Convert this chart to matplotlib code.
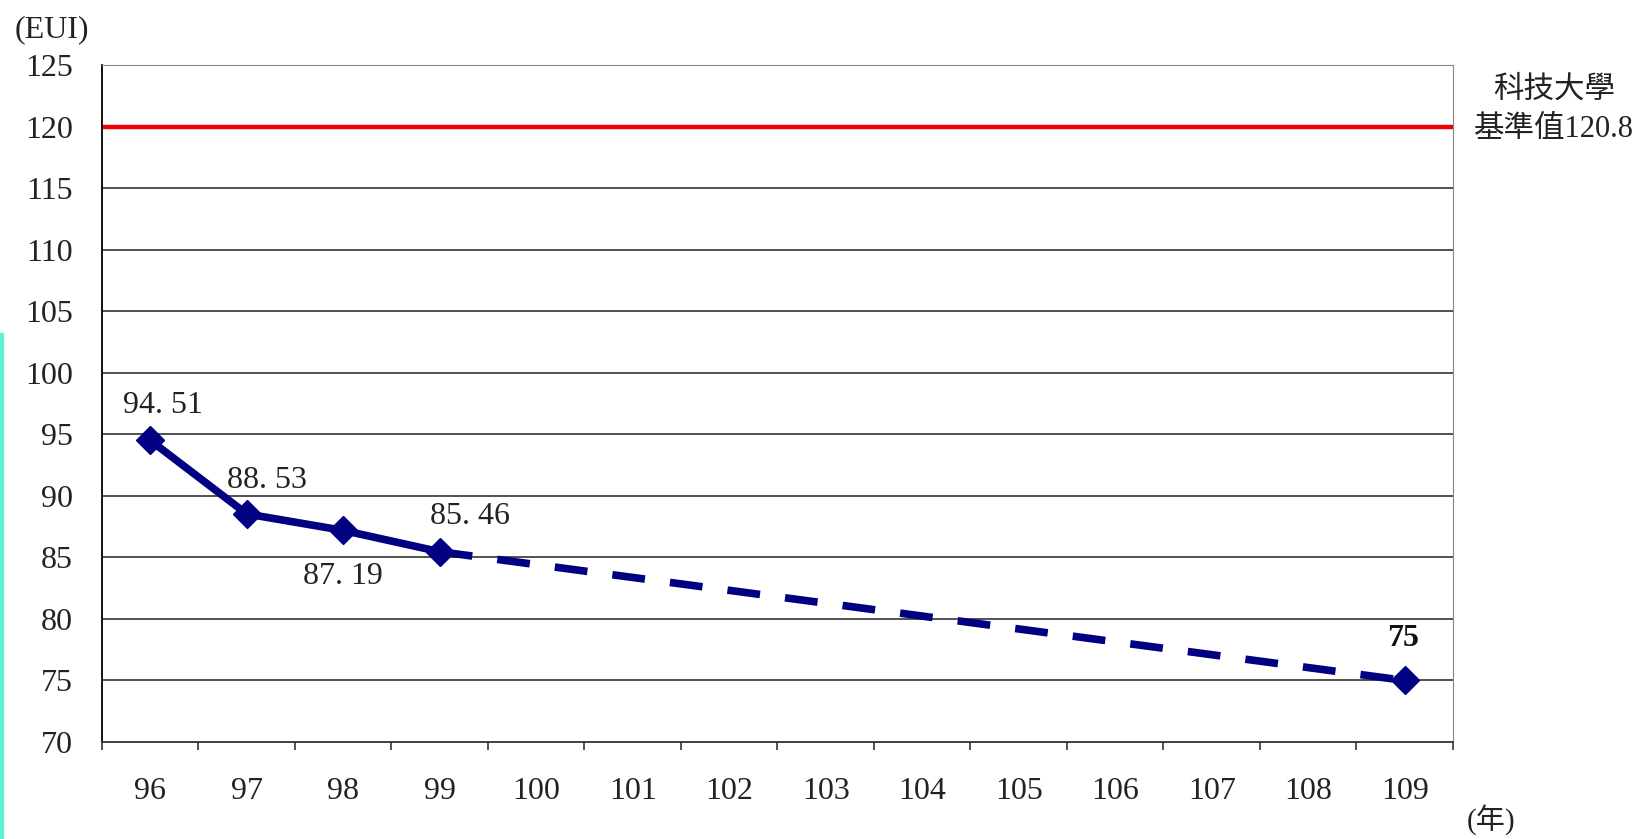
import matplotlib
matplotlib.use("Agg")
import matplotlib.pyplot as plt
from matplotlib.patches import Rectangle
from matplotlib.ticker import FixedLocator

# data
years = ["96", "97", "98", "99", "100", "101", "102", "103", "104", "105", "106", "107", "108", "109"]
actual_idx = [0, 1, 2, 3]
actual_eui = [94.51, 88.53, 87.19, 85.46]
target_idx = [3, 13]
target_eui = [85.46, 75]
baseline = 120
baseline_text = "科技大學\n基準值120.8"

fonts = ["Liberation Serif", "Noto Sans CJK TC", "DejaVu Sans"]
plt.rcParams["font.family"] = fonts

fig = plt.figure(figsize=(16.5, 8.39), dpi=100)
ax = fig.add_axes([0.0618, 0.1156, 0.8188, 0.8069])

ax.set_xlim(-0.5, len(years) - 0.5)
ax.set_ylim(70, 125)

# grid lines every 5
for v in range(75, 125, 5):
    ax.axhline(v, color="#222222", lw=1.1, zorder=1)

ax.axhline(baseline, color="#ee0000", lw=3.2, zorder=2)

# dashed projection, then solid actuals
ax.plot(target_idx, target_eui, color="#000080", lw=5.5, ls=(0, (4.3, 3.3)),
        marker="D", markersize=14, markevery=[1], zorder=3)
ax.plot(actual_idx, actual_eui, color="#000080", lw=5.5, marker="D",
        markersize=14, solid_joinstyle="miter", zorder=4)

# value labels
offsets = [(13, 35), (20, 33), (0, -46), (30, 35)]
for i, v, off in zip(actual_idx, actual_eui, offsets):
    ax.annotate(f"{v:.2f}".replace(".", ". "), (i, v), xytext=off, textcoords="offset pixels",
                ha="center", va="center", fontsize=23, color="#222222")
ax.annotate(f"{target_eui[-1]:g}", (target_idx[-1], target_eui[-1]), xytext=(-2, 42),
            textcoords="offset pixels", ha="center", va="center", fontsize=23,
            fontweight="bold", color="#111111")

# axes styling
ax.spines["left"].set_color("black")
ax.spines["left"].set_linewidth(1.3)
ax.spines["bottom"].set_color("#333333")
ax.spines["bottom"].set_linewidth(1.3)
ax.spines["top"].set_color("#888888")
ax.spines["right"].set_color("#888888")

ax.set_yticks(range(70, 126, 5))
ax.tick_params(axis="y", length=0, pad=21, labelsize=23, labelcolor="#222222")
ax.set_xticks(range(len(years)))
ax.set_xticklabels(years)
ax.xaxis.set_minor_locator(FixedLocator([i + 0.5 for i in range(-1, len(years))]))
ax.tick_params(axis="x", which="major", length=0, pad=25, labelsize=23, labelcolor="#222222")
ax.tick_params(axis="x", which="minor", length=6, width=1.2, color="#333333", direction="out")

fig.text(52 / 1650, 1 - 30 / 839, "(EUI)", ha="center", va="center", fontsize=23, color="#222222")
fig.text(1491 / 1650, 1 - 820 / 839, "(年)", ha="center", va="center", fontsize=21, color="#222222")
fig.text(1554 / 1650, 1 - 110 / 839, baseline_text, ha="center", va="center", fontsize=22,
         color="#222222", linespacing=1.45)

# cyan strip on the left edge
fig.patches.append(Rectangle((0, 0), 3 / 1650, (839 - 333) / 839, transform=fig.transFigure,
                             color="#5ef2d0", zorder=0))

fig.savefig("out.png", dpi=100)
